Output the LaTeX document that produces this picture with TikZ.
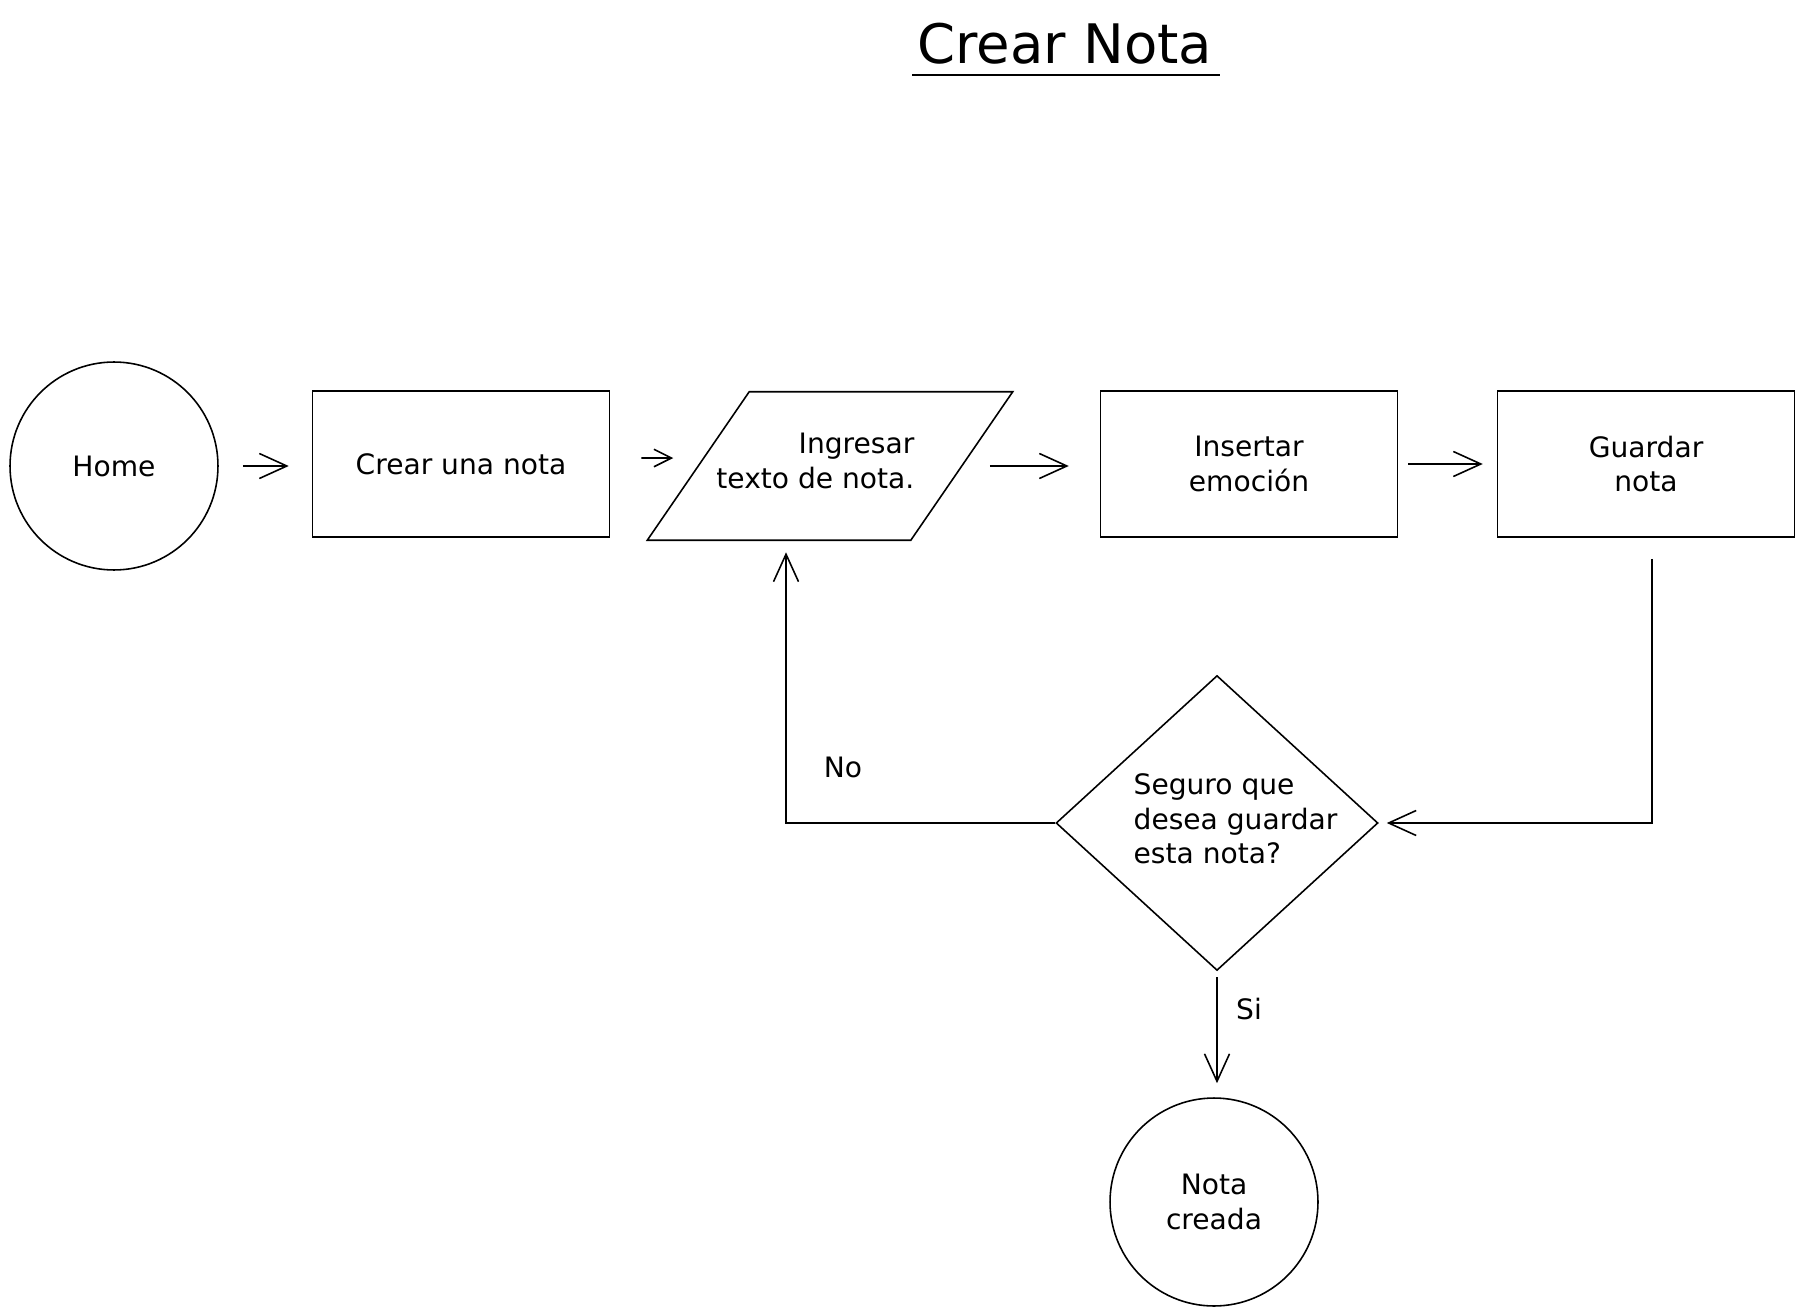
\documentclass[tikz,border=0pt]{standalone}
\usepackage{fontspec}
\setmainfont{DejaVu Sans}
\usetikzlibrary{arrows.meta, shapes.geometric}

\begin{document}
\begin{tikzpicture}[
  x=0.02cm, y=-0.02cm,
  line width=0.9pt,
  >={Straight Barb[length=5.5mm, width=5mm]},
  every node/.style={font=\fontsize{16}{19.6}\selectfont},
  pbox/.style={draw, rectangle, minimum width=5.94cm, minimum height=2.92cm, align=center, inner sep=0pt},
  pcircle/.style={draw, circle, minimum size=4.16cm, align=center, inner sep=0pt},
  pio/.style={rectangle, minimum width=7.28cm, minimum height=2.94cm, inner sep=0pt},
  pcheck/.style={draw, diamond, minimum width=6.44cm, minimum height=5.9cm, inner sep=0pt},
  flow/.style={->},
]
\useasboundingbox (0,0) rectangle (1804,1314);

% Title
\node[font=\fontsize{31}{36}\selectfont] (title) at (1065,44) {Crear Nota};
\draw[line width=1.3pt] (912,75) -- (1220,75);

% Main row
\node[pcircle] (home)     at (114,466)  {Home};
\node[pbox]    (crear)    at (461,464)  {Crear una nota};
\node[pio]     (ingresar) at (830,466)  {};
\draw ([xshift=2.04cm]ingresar.north west) -- (ingresar.north east)
  -- ([xshift=-2.04cm]ingresar.south east) -- (ingresar.south west) -- cycle;
\node[align=right, anchor=east] (ingresartxt) at (921,461) {Ingresar\\texto de nota.};
\node[pbox]    (emocion)  at (1249,464) {Insertar\\emoción};
\node[pbox]    (guardar)  at (1646,464) {Guardar\\nota};

% Decision and end
\node[pcheck]  (seguro) at (1217,823) {};
\node[align=left, anchor=west] (segurotxt) at (1127,819) {Seguro que\\desea guardar\\esta nota?};
\node[pcircle] (creada) at (1214,1202) {Nota\\creada};

% Branch labels
\node (no) at (843,767)  {No};
\node (si) at (1249,1009) {Si};

% Connectors
\draw[flow, shorten <=0.48cm, shorten >=0.46cm] (home) -- (crear.west |- home);
\draw[-{Straight Barb[length=3.5mm, width=3.5mm]}, shorten <=0.62cm, shorten >=0.5cm]
  ([yshift=0.12cm]crear.east) -- ([xshift=1.02cm, yshift=0.16cm]ingresar.west);
\draw[flow, shorten <=0.56cm, shorten >=0.62cm] ([xshift=-1.02cm]ingresar.east) -- (ingresar.east -| emocion.west);
\draw[flow, shorten <=0.2cm, shorten >=0.28cm] (emocion.east) -- (emocion.east -| guardar.west);
\draw[flow, shorten <=0.42cm, shorten >=0.16cm] ([xshift=0.12cm]guardar.south) |- (seguro.east);
\draw[flow, shorten >=0.24cm] (seguro.west) -| ([xshift=-0.88cm]ingresar.south);
\draw[flow, shorten <=0.12cm, shorten >=0.28cm] (seguro.south) -- (seguro.south |- creada.north);
\end{tikzpicture}
\end{document}
